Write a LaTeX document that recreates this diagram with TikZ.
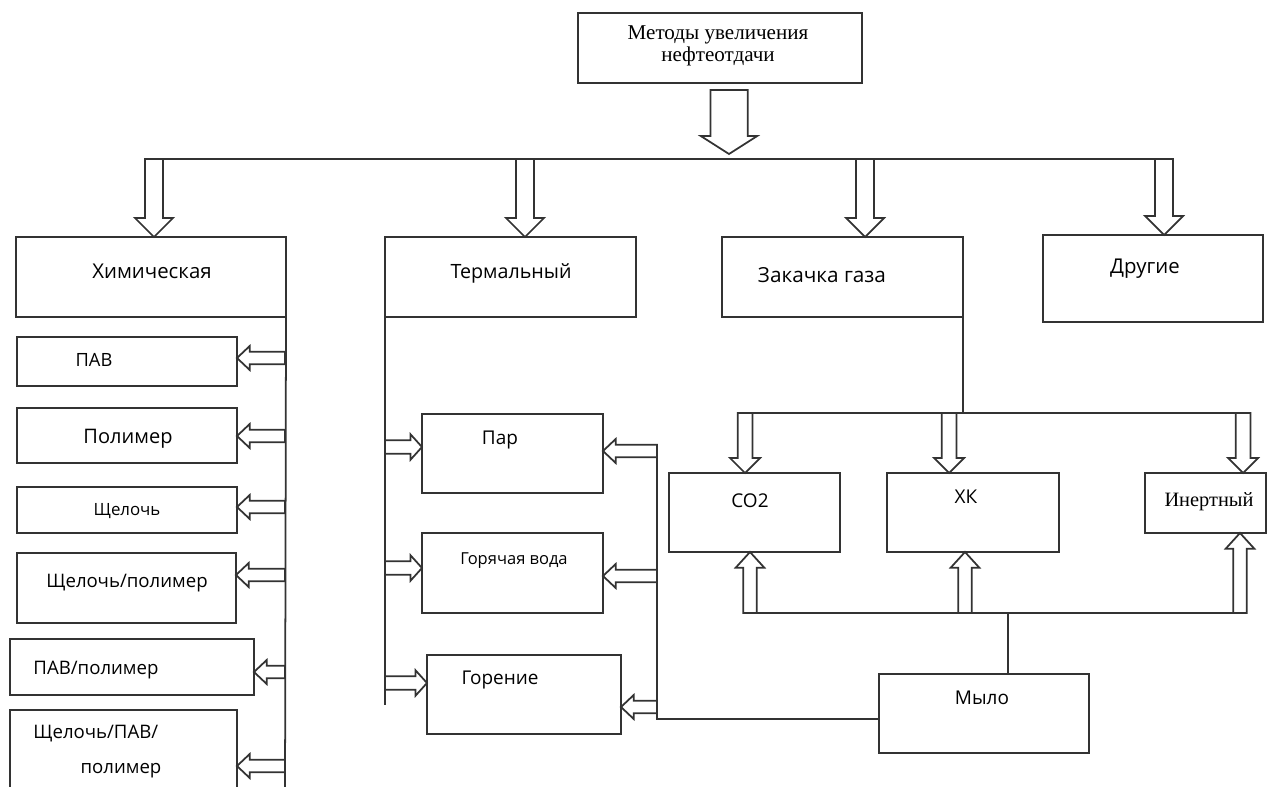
\documentclass[tikz,border=0pt]{standalone}
\usepackage{fontspec}
\setmainfont{Open Sans}
\newfontfamily\serifcyr{Liberation Serif}
\usetikzlibrary{fit,calc}

\tikzset{
  conn/.style={draw=black!80, line width=1pt},
  box/.style={draw=black!80, line width=1pt, inner sep=0pt, outer sep=0pt},
  lbl/.style={inner sep=0pt, anchor=base, font=\fontsize{#1}{#1}\selectfont},
  slbl/.style={inner sep=0pt, anchor=base, font=\serifcyr\fontsize{#1}{#1}\selectfont},
}

% hollow arrow, vertical: tail, tip, shaft half, head half, head length
\newcommand{\vhollow}[5]{%
  \draw[conn] let \p1=(#1), \p2=(#2), \n1={(\y2-\y1)/abs(\y2-\y1)} in
    ({\x2-#3},\y1) -- ({\x2-#3},{\y2-(\n1)*#5}) -- ({\x2-#4},{\y2-(\n1)*#5}) -- (\p2)
    -- ({\x2+#4},{\y2-(\n1)*#5}) -- ({\x2+#3},{\y2-(\n1)*#5}) -- ({\x2+#3},\y1) -- cycle;}
% hollow arrow, horizontal: tail, tip, shaft half, head half, head length
\newcommand{\hhollow}[5]{%
  \draw[conn] let \p1=(#1), \p2=(#2), \n1={(\x2-\x1)/abs(\x2-\x1)} in
    (\x1,{\y2+#3}) -- ({\x2-(\n1)*#5},{\y2+#3}) -- ({\x2-(\n1)*#5},{\y2+#4}) -- (\p2)
    -- ({\x2-(\n1)*#5},{\y2-#4}) -- ({\x2-(\n1)*#5},{\y2-#3}) -- (\x1,{\y2-#3}) -- cycle;}

\begin{document}
\begin{tikzpicture}[x=0.02cm, y=-0.02cm]
\useasboundingbox (0,0) rectangle (1268,787);

% top
\node[box, fit={(578,13) (862,83)}] (methods) {};
\node[slbl=12pt] (methodsA) at (718,40) {Методы увеличения};
\node[slbl=12pt] (methodsB) at (718,62) {нефтеотдачи};
\coordinate (mA) at (729,90);
\coordinate (mB) at (729,154);
\vhollow{mA}{mB}{10.6pt}{16pt}{10.2pt}

% bus
\coordinate (bus0) at (145,159);
\coordinate (bus1) at (1173,159);
\coordinate (b1) at (154,159);
\coordinate (b2) at (525,159);
\coordinate (b3) at (865,159);
\coordinate (b4) at (1164,159);
\draw[conn] (bus0) -- (bus1);

% level 1
\node[box, fit={(16,237) (286,317)}] (chem) {};
\node[lbl=11.6pt] (chemT) at (152,278) {Химическая};
\node[box, fit={(385,237) (636,317)}] (therm) {};
\node[lbl=11.2pt] (thermT) at (511,278) {Термальный};
\node[box, fit={(722,237) (963,317)}] (gas) {};
\node[lbl=11.8pt] (gasT) at (822,283) {Закачка газа};
\node[box, fit={(1043,235) (1263,322)}] (other) {};
\node[lbl=11.6pt] (otherT) at (1145,274) {Другие};

\vhollow{b1}{b1 |- chem.north}{5.1pt}{10.8pt}{10.8pt}
\vhollow{b2}{b2 |- therm.north}{5.1pt}{10.8pt}{10.8pt}
\vhollow{b3}{b3 |- gas.north}{5.1pt}{10.8pt}{10.8pt}
\vhollow{b4}{b4 |- other.north}{5.1pt}{10.8pt}{10.8pt}

% chemical
\coordinate (chemEnd) at (285,800);
\draw[conn] (chem.south east) -- (chemEnd);
\node[box, fit={(17,337) (237,386)}] (pav) {};
\node[lbl=10.4pt] (pavT) at (94,366) {ПАВ};
\node[box, fit={(17,408) (237,463)}] (poly) {};
\node[lbl=11.4pt] (polyT) at (128,443) {Полимер};
\node[box, fit={(17,487) (237,533)}] (alk) {};
\node[lbl=9.6pt] (alkT) at (127,515) {Щелочь};
\node[box, fit={(17,553) (236,623)}] (alkpoly) {};
\node[lbl=10.6pt] (alkpolyT) at (127,587) {Щелочь/полимер};
\node[box, fit={(10,639) (254,695)}] (pavpoly) {};
\node[lbl=10.6pt] (pavpolyT) at (96,674) {ПАВ/полимер};
\node[box, fit={(10,710) (237,800)}] (asp) {};
\node[lbl=10.6pt, anchor=base west] (aspA) at (33,738) {Щелочь/ПАВ/};
\node[lbl=10.6pt] (aspB) at (121,773) {полимер};

\coordinate (c1) at (285,358);
\coordinate (c2) at (285,436);
\coordinate (c3) at (285,507);
\coordinate (c4) at (285,575);
\coordinate (c5) at (285,672);
\coordinate (c6) at (285,766);
\hhollow{c1}{c1 -| pav.east}{3.6pt}{6.8pt}{7.2pt}
\hhollow{c2}{c2 -| poly.east}{3.6pt}{6.8pt}{7.2pt}
\hhollow{c3}{c3 -| alk.east}{3.6pt}{6.8pt}{7.2pt}
\hhollow{c4}{c4 -| alkpoly.east}{3.6pt}{6.8pt}{7.2pt}
\hhollow{c5}{c5 -| pavpoly.east}{3.6pt}{6.8pt}{7.2pt}
\hhollow{c6}{c6 -| asp.east}{3.6pt}{6.8pt}{7.2pt}

% thermal
\coordinate (thEnd) at (385,705);
\draw[conn] (therm.south west) -- (thEnd);
\node[box, fit={(422,414) (603,493)}] (steam) {};
\node[lbl=10.8pt] (steamT) at (500,444) {Пар};
\node[box, fit={(422,533) (603,613)}] (hotw) {};
\node[lbl=9.4pt] (hotwT) at (514,564) {Горячая вода};
\node[box, fit={(427,655) (621,734)}] (burn) {};
\node[lbl=10.8pt] (burnT) at (500,684) {Горение};

\coordinate (t1) at (385,447);
\coordinate (t2) at (385,568);
\coordinate (t3) at (385,683);
\hhollow{t1}{t1 -| steam.west}{3.8pt}{7.2pt}{6.5pt}
\hhollow{t2}{t2 -| hotw.west}{3.8pt}{7.2pt}{6.5pt}
\hhollow{t3}{t3 -| burn.west}{3.8pt}{7.2pt}{6.5pt}

% soap
\node[box, fit={(879,674) (1089,753)}] (soap) {};
\node[lbl=10.8pt] (soapT) at (982,704) {Мыло};
\coordinate (rTop) at (657,445);
\coordinate (rBot) at (657,719);
\draw[conn] (rTop) -- (rBot) -- (rBot -| soap.west);
\coordinate (r1) at (657,451);
\coordinate (r2) at (657,576);
\coordinate (r3) at (657,707);
\hhollow{r1}{r1 -| steam.east}{3.6pt}{6.8pt}{7.2pt}
\hhollow{r2}{r2 -| hotw.east}{3.6pt}{6.8pt}{7.2pt}
\hhollow{r3}{r3 -| burn.east}{3.6pt}{6.8pt}{7.2pt}

% gas
\coordinate (gJ) at (963,413);
\draw[conn] (gas.south east) -- (gJ);
\coordinate (g0) at (737,413);
\coordinate (g3) at (1250,413);
\draw[conn] (g0) -- (g3);
\coordinate (gd1) at (745,413);
\coordinate (gd2) at (949,413);
\coordinate (gd3) at (1243,413);
\node[box, fit={(669,473) (840,552)}] (co2) {};
\node[lbl=10.8pt] (co2T) at (750,507) {CO2};
\node[box, fit={(887,473) (1059,552)}] (hk) {};
\node[lbl=10.8pt] (hkT) at (966,503) {ХК};
\node[box, fit={(1145,473) (1266,533)}] (inert) {};
\node[slbl=11.6pt] (inertT) at (1209,506) {Инертный};
\vhollow{gd1}{gd1 |- co2.north}{4.2pt}{8.5pt}{8.5pt}
\vhollow{gd2}{gd2 |- hk.north}{4.2pt}{8.5pt}{8.5pt}
\vhollow{gd3}{gd3 |- inert.north}{4.2pt}{8.5pt}{8.5pt}

\coordinate (u0) at (744,613);
\coordinate (u4) at (1247,613);
\coordinate (u1) at (750,613);
\coordinate (u2) at (965,613);
\coordinate (u3) at (1240,613);
\coordinate (sJ) at (1008,613);
\draw[conn] (u0) -- (u4);
\draw[conn] (sJ) -- (sJ |- soap.north);
\vhollow{u1}{u1 |- co2.south}{3.8pt}{8.2pt}{9pt}
\vhollow{u2}{u2 |- hk.south}{3.8pt}{8.2pt}{9pt}
\vhollow{u3}{u3 |- inert.south}{3.8pt}{8.2pt}{9pt}
\end{tikzpicture}
\end{document}
